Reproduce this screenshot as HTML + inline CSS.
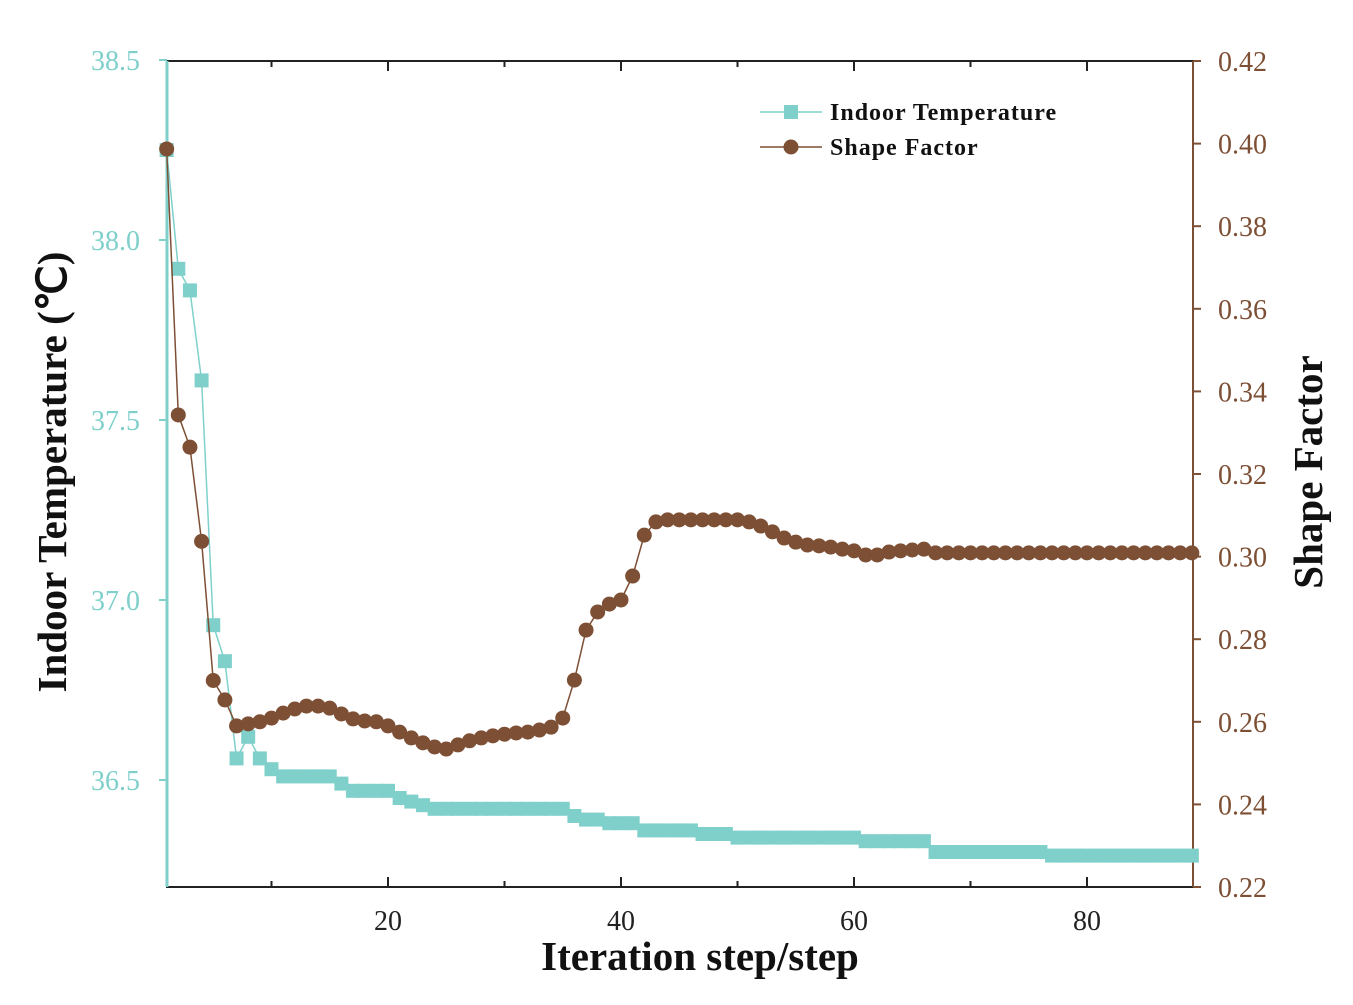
<!DOCTYPE html>
<html><head><meta charset="utf-8"><style>
html,body{margin:0;padding:0;background:#fff;}
svg{display:block;font-family:"Liberation Serif",serif;}
</style></head><body>
<svg id="chart" width="1353" height="1005" viewBox="0 0 1353 1005" xmlns="http://www.w3.org/2000/svg"></svg>
<script>
const steps = Array.from({length:89},(_,i)=>i+1);
const tempValues = [38.25,37.92,37.86,37.61,36.93,36.83,36.56,36.62,36.56,36.53,
36.51,36.51,36.51,36.51,36.51,36.49,36.47,36.47,36.47,36.47,
36.45,36.44,36.43,36.42,36.42,36.42,36.42,36.42,36.42,36.42,
36.42,36.42,36.42,36.42,36.42,36.40,36.39,36.39,36.38,36.38,
36.38,36.36,36.36,36.36,36.36,36.36,36.35,36.35,36.35,36.34,
36.34,36.34,36.34,36.34,36.34,36.34,36.34,36.34,36.34,36.34,
36.33,36.33,36.33,36.33,36.33,36.33,36.30,36.30,36.30,36.30,
36.30,36.30,36.30,36.30,36.30,36.30,36.29,36.29,36.29,36.29,
36.29,36.29,36.29,36.29,36.29,36.29,36.29,36.29,36.29];
const shapeValues = [0.3987,0.3343,0.3265,0.3037,0.2700,0.2653,0.2590,0.2595,0.2600,0.2609,
0.2621,0.2631,0.2638,0.2638,0.2633,0.2619,0.2607,0.2602,0.2600,0.2590,
0.2575,0.2561,0.2549,0.2539,0.2534,0.2544,0.2554,0.2561,0.2566,0.2570,
0.2573,0.2575,0.2580,0.2587,0.2609,0.2701,0.2822,0.2866,0.2885,0.2895,
0.2953,0.3052,0.3084,0.3089,0.3089,0.3089,0.3089,0.3089,0.3089,0.3089,
0.3084,0.3074,0.3060,0.3045,0.3035,0.3028,0.3026,0.3023,0.3018,0.3014,
0.3004,0.3004,0.3011,0.3014,0.3016,0.3018,0.3009,0.3009,0.3009,0.3009,
0.3009,0.3009,0.3009,0.3009,0.3009,0.3009,0.3009,0.3009,0.3009,0.3009,
0.3009,0.3009,0.3009,0.3009,0.3009,0.3009,0.3009,0.3009,0.3009];
const xTicks = [20,40,60,80];
const leftTicks = [36.5,37.0,37.5,38.0,38.5];
const rightTicks = [0.22,0.24,0.26,0.28,0.30,0.32,0.34,0.36,0.38,0.40,0.42];

const L=167,R=1193,T=61,B=887;
const xs=v=>155+(v)*(1087-155)/80;
const yl=v=>780-(v-36.5)*360;
const yr=v=>887-(v-0.22)*(887-61)/0.2;
const svg=document.getElementById('chart');
const NS='http://www.w3.org/2000/svg';
function mk(tag,attrs,parent){const e=document.createElementNS(NS,tag);for(const k in attrs)e.setAttribute(k,attrs[k]);(parent||svg).appendChild(e);return e;}
const TEAL='#7fd0cb',BROWN='#7d4f34';

let f=mk('rect',{x:L,y:T,width:R-L,height:B-T,fill:'none',stroke:'#222','stroke-width':2});

let la=mk('line',{x1:L,y1:T,x2:L,y2:B,stroke:TEAL,'stroke-width':3});

let ra=mk('line',{x1:R,y1:T,x2:R,y2:B,stroke:BROWN,'stroke-width':2});


for(let v=10;v<=80;v+=10){const x=xs(v);const big=v%20===0;
 mk('line',{x1:x,y1:B,x2:x,y2:B-(big?10:6),stroke:'#222','stroke-width':2});
 mk('line',{x1:x,y1:T,x2:x,y2:T+(big?10:6),stroke:'#222','stroke-width':2});}
xTicks.forEach(v=>{const t=mk('text',{x:xs(v),y:930,'font-size':28,'text-anchor':'middle',fill:'#222'});t.textContent=v;
 });
leftTicks.forEach(v=>{const y=yl(v);mk('line',{x1:L,y1:y,x2:L-8,y2:y,stroke:TEAL,'stroke-width':2});
 const t=mk('text',{x:140,y:y+10,'font-size':28,'text-anchor':'end',fill:TEAL});t.textContent=v.toFixed(1);
 });
rightTicks.forEach(v=>{const y=yr(v);mk('line',{x1:R,y1:y,x2:R+8,y2:y,stroke:BROWN,'stroke-width':2});
 const t=mk('text',{x:1218,y:y+10,'font-size':28,fill:BROWN});t.textContent=v.toFixed(2);
 });

let xt=mk('text',{x:700,y:970,'font-size':41,'font-weight':'bold','text-anchor':'middle',fill:'#111'});xt.textContent='Iteration step/step';

let yt=mk('text',{x:0,y:0,'font-size':41,'font-weight':'bold','text-anchor':'middle',fill:'#111',transform:'translate(66,472) rotate(-90)'});yt.textContent='Indoor Temperature (℃)';

let rt=mk('text',{x:0,y:0,'font-size':41,'font-weight':'bold','text-anchor':'middle',fill:'#111',transform:'translate(1322,472) rotate(-90)'});rt.textContent='Shape Factor';


let tp=mk('polyline',{points:steps.map((s,i)=>xs(s)+','+yl(tempValues[i])).join(' '),fill:'none',stroke:TEAL,'stroke-width':1.5});

steps.forEach((s,i)=>{const m=mk('rect',{x:xs(s)-7,y:yl(tempValues[i])-7,width:14,height:14,fill:TEAL});
 });
let sp=mk('polyline',{points:steps.map((s,i)=>xs(s)+','+yr(shapeValues[i])).join(' '),fill:'none',stroke:BROWN,'stroke-width':1.5});

steps.forEach((s,i)=>{const m=mk('circle',{cx:xs(s),cy:yr(shapeValues[i]),r:7.5,fill:BROWN});
 });

let g=mk('g',{});
mk('line',{x1:760,y1:112,x2:822,y2:112,stroke:TEAL,'stroke-width':1.5},g);
mk('rect',{x:784,y:105,width:14,height:14,fill:TEAL},g);
let l1=mk('text',{x:830,y:120,'font-size':24,'font-weight':'bold','letter-spacing':1,fill:'#111'},g);l1.textContent='Indoor Temperature';
mk('line',{x1:760,y1:147,x2:822,y2:147,stroke:BROWN,'stroke-width':1.5},g);
mk('circle',{cx:791,cy:147,r:7.5,fill:BROWN},g);
let l2=mk('text',{x:830,y:155,'font-size':24,'font-weight':'bold','letter-spacing':1,fill:'#111'},g);l2.textContent='Shape Factor';
</script>
</body></html>
